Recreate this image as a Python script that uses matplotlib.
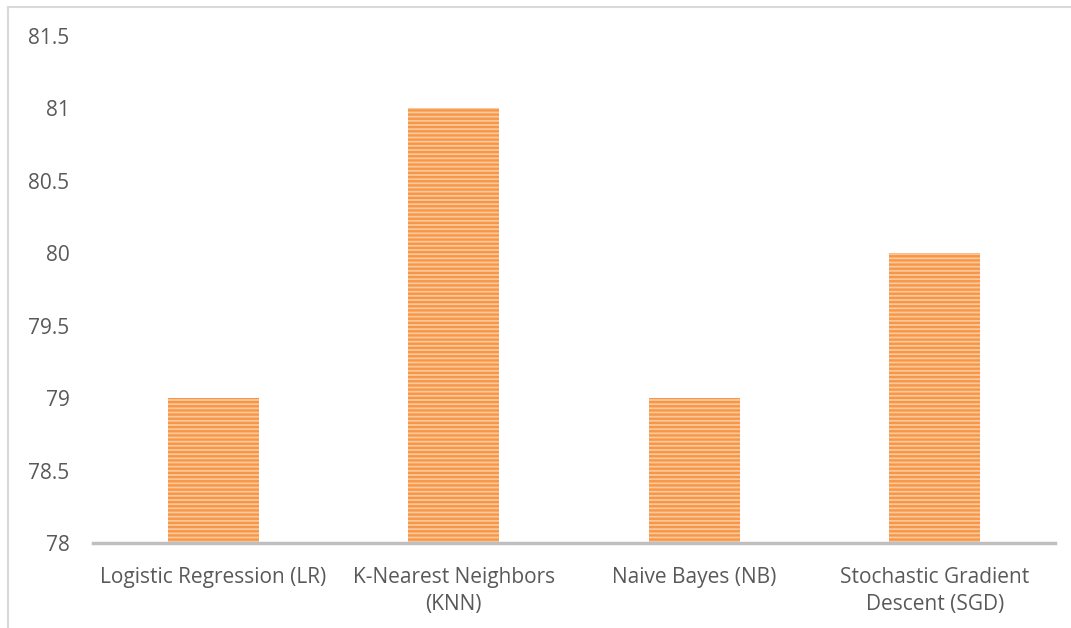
import matplotlib.pyplot as plt
from matplotlib.lines import Line2D

# dane: dokladnosc modeli [%]
models = ['Logistic Regression (LR)', 'K-Nearest Neighbors\n(KNN)',
          'Naive Bayes (NB)', 'Stochastic Gradient\nDescent (SGD)']
accuracy = [79, 81, 79, 80]
yticks = [78, 78.5, 79, 79.5, 80, 80.5, 81, 81.5]

plt.rcParams['font.family'] = ['Open Sans', 'DejaVu Sans']
plt.rcParams['hatch.linewidth'] = 1.7

fig = plt.figure(figsize=(10.71, 6.28), dpi=100)
ax = fig.add_axes([93 / 1071, 1 - 543 / 628, (1055 - 93) / 1071, (543 - 36) / 628])

ax.bar(range(len(models)), accuracy, width=0.38, bottom=0,
       color='#fbc89c', edgecolor='#f79646', hatch='----', linewidth=0)

ax.set_xlim(-0.5, len(models) - 0.5)
ax.set_ylim(78, 81.5)
ax.set_yticks(yticks)
ax.set_yticklabels([f'{t:g}' for t in yticks])
ax.set_xticks(range(len(models)))
ax.set_xticklabels(models, linespacing=1.4)

for s in ['top', 'right', 'left']:
    ax.spines[s].set_visible(False)
ax.spines['bottom'].set_color('#bfbfbf')
ax.spines['bottom'].set_linewidth(2.5)
ax.tick_params(axis='both', length=0, labelsize=15, colors='#595959')
ax.tick_params(axis='y', pad=17)
ax.tick_params(axis='x', pad=17)

# ramka wykresu
fig.add_artist(Line2D([7.5 / 1071, 7.5 / 1071], [0, 1 - 6.5 / 628],
                      transform=fig.transFigure, color='#d9d9d9', lw=1.5))
fig.add_artist(Line2D([7.5 / 1071, 1], [1 - 6.5 / 628, 1 - 6.5 / 628],
                      transform=fig.transFigure, color='#d9d9d9', lw=1.5))

fig.savefig('out.png', dpi=100)
